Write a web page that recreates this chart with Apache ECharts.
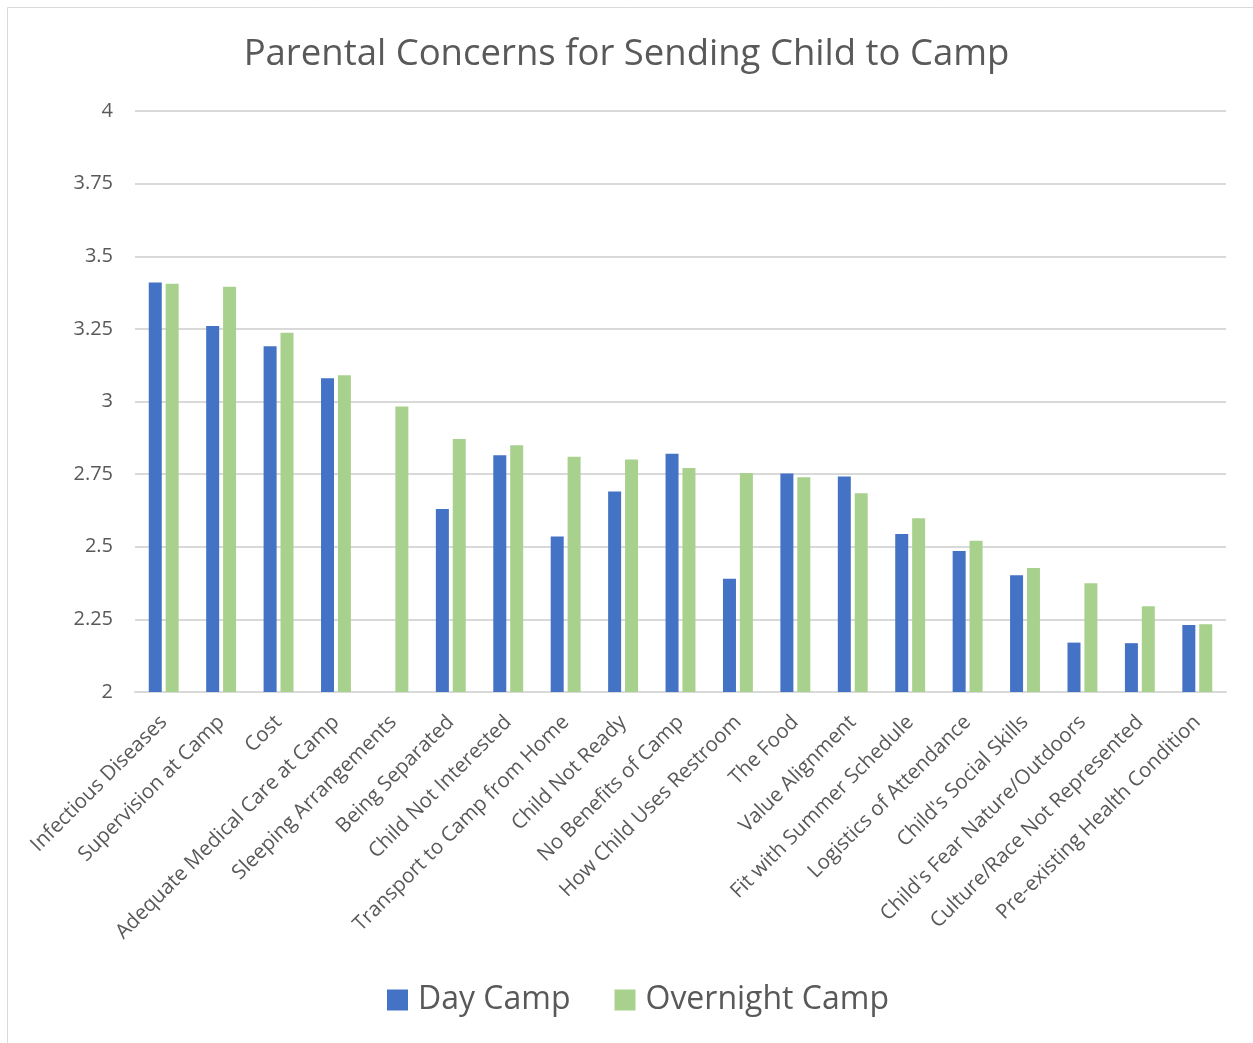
<!DOCTYPE html>
<html>
<head>
<meta charset="utf-8">
<script src="https://cdn.jsdelivr.net/npm/echarts@6/dist/echarts.min.js"></script>
<style>
  html, body { margin: 0; padding: 0; background: #fff; }
  #chart { width: 1253px; height: 1043px; }
</style>
</head>
<body>
<div id="chart"></div>
<script>
const categories = [
  'Infectious Diseases', 'Supervision at Camp', 'Cost', 'Adequate Medical Care at Camp',
  'Sleeping Arrangements', 'Being Separated', 'Child Not Interested', 'Transport to Camp from Home',
  'Child Not Ready', 'No Benefits of Camp', 'How Child Uses Restroom', 'The Food',
  'Value Alignment', 'Fit with Summer Schedule', 'Logistics of Attendance', "Child's Social Skills",
  "Child's Fear Nature/Outdoors", 'Culture/Race Not Represented', 'Pre-existing Health Condition'
];
const dayCamp = [3.41, 3.26, 3.19, 3.08, null, 2.63, 2.815, 2.535, 2.69, 2.82, 2.39, 2.752,
  2.742, 2.544, 2.485, 2.402, 2.17, 2.168, 2.231];
const overnightCamp = [3.405, 3.395, 3.237, 3.09, 2.983, 2.871, 2.849, 2.81, 2.8, 2.771, 2.754, 2.739,
  2.684, 2.598, 2.521, 2.427, 2.374, 2.295, 2.233];
const yTicks = [2, 2.25, 2.5, 2.75, 3, 3.25, 3.5, 3.75, 4];

const FONT = '"Open Sans", "Noto Sans", sans-serif';
const TEXT = '#595959';

const chart = echarts.init(document.getElementById('chart'), null, { renderer: 'canvas' });
chart.setOption({
  backgroundColor: '#ffffff',
  animation: false,
  graphic: [{
    type: 'rect',
    shape: { x: 7.5, y: 7.5, width: 1300, height: 1100 },
    style: { fill: 'none', stroke: '#d9d9d9', lineWidth: 1 },
    silent: true
  }],
  title: {
    text: 'Parental Concerns for Sending Child to Camp',
    left: 'center',
    top: 31,
    textStyle: { fontFamily: FONT, fontSize: 36.5, fontWeight: 'normal', color: TEXT }
  },
  legend: {
    bottom: 22,
    left: 382,
    itemWidth: 21,
    itemHeight: 21,
    itemGap: 44,
    icon: 'rect',
    textStyle: { fontFamily: FONT, fontSize: 32, color: TEXT, padding: [0, 0, 0, 5] },
    data: ['Day Camp', 'Overnight Camp']
  },
  grid: { left: 135, right: 27, top: 111, bottom: 351, containLabel: false },
  xAxis: {
    type: 'category',
    data: categories,
    axisLine: { show: true, lineStyle: { color: '#d9d9d9', width: 2 } },
    axisTick: { show: false },
    axisLabel: {
      interval: 0,
      rotate: 45,
      margin: 27,
      fontFamily: FONT,
      fontSize: 20.5,
      color: TEXT
    }
  },
  yAxis: {
    type: 'value',
    min: yTicks[0],
    max: yTicks[yTicks.length - 1],
    interval: 0.25,
    axisLine: { show: false },
    axisTick: { show: false },
    splitLine: { lineStyle: { color: '#d9d9d9', width: 2 } },
    axisLabel: {
      margin: 22,
      fontFamily: FONT,
      fontSize: 20,
      color: TEXT,
      formatter: v => String(parseFloat(v.toFixed(2)))
    }
  },
  series: [
    {
      name: 'Day Camp',
      type: 'bar',
      data: dayCamp,
      barWidth: 13,
      barGap: '30%',
      itemStyle: { color: '#4472C4' }
    },
    {
      name: 'Overnight Camp',
      type: 'bar',
      data: overnightCamp,
      barWidth: 13,
      barGap: '30%',
      itemStyle: { color: '#A9D18E' }
    }
  ]
});
</script>
</body>
</html>
